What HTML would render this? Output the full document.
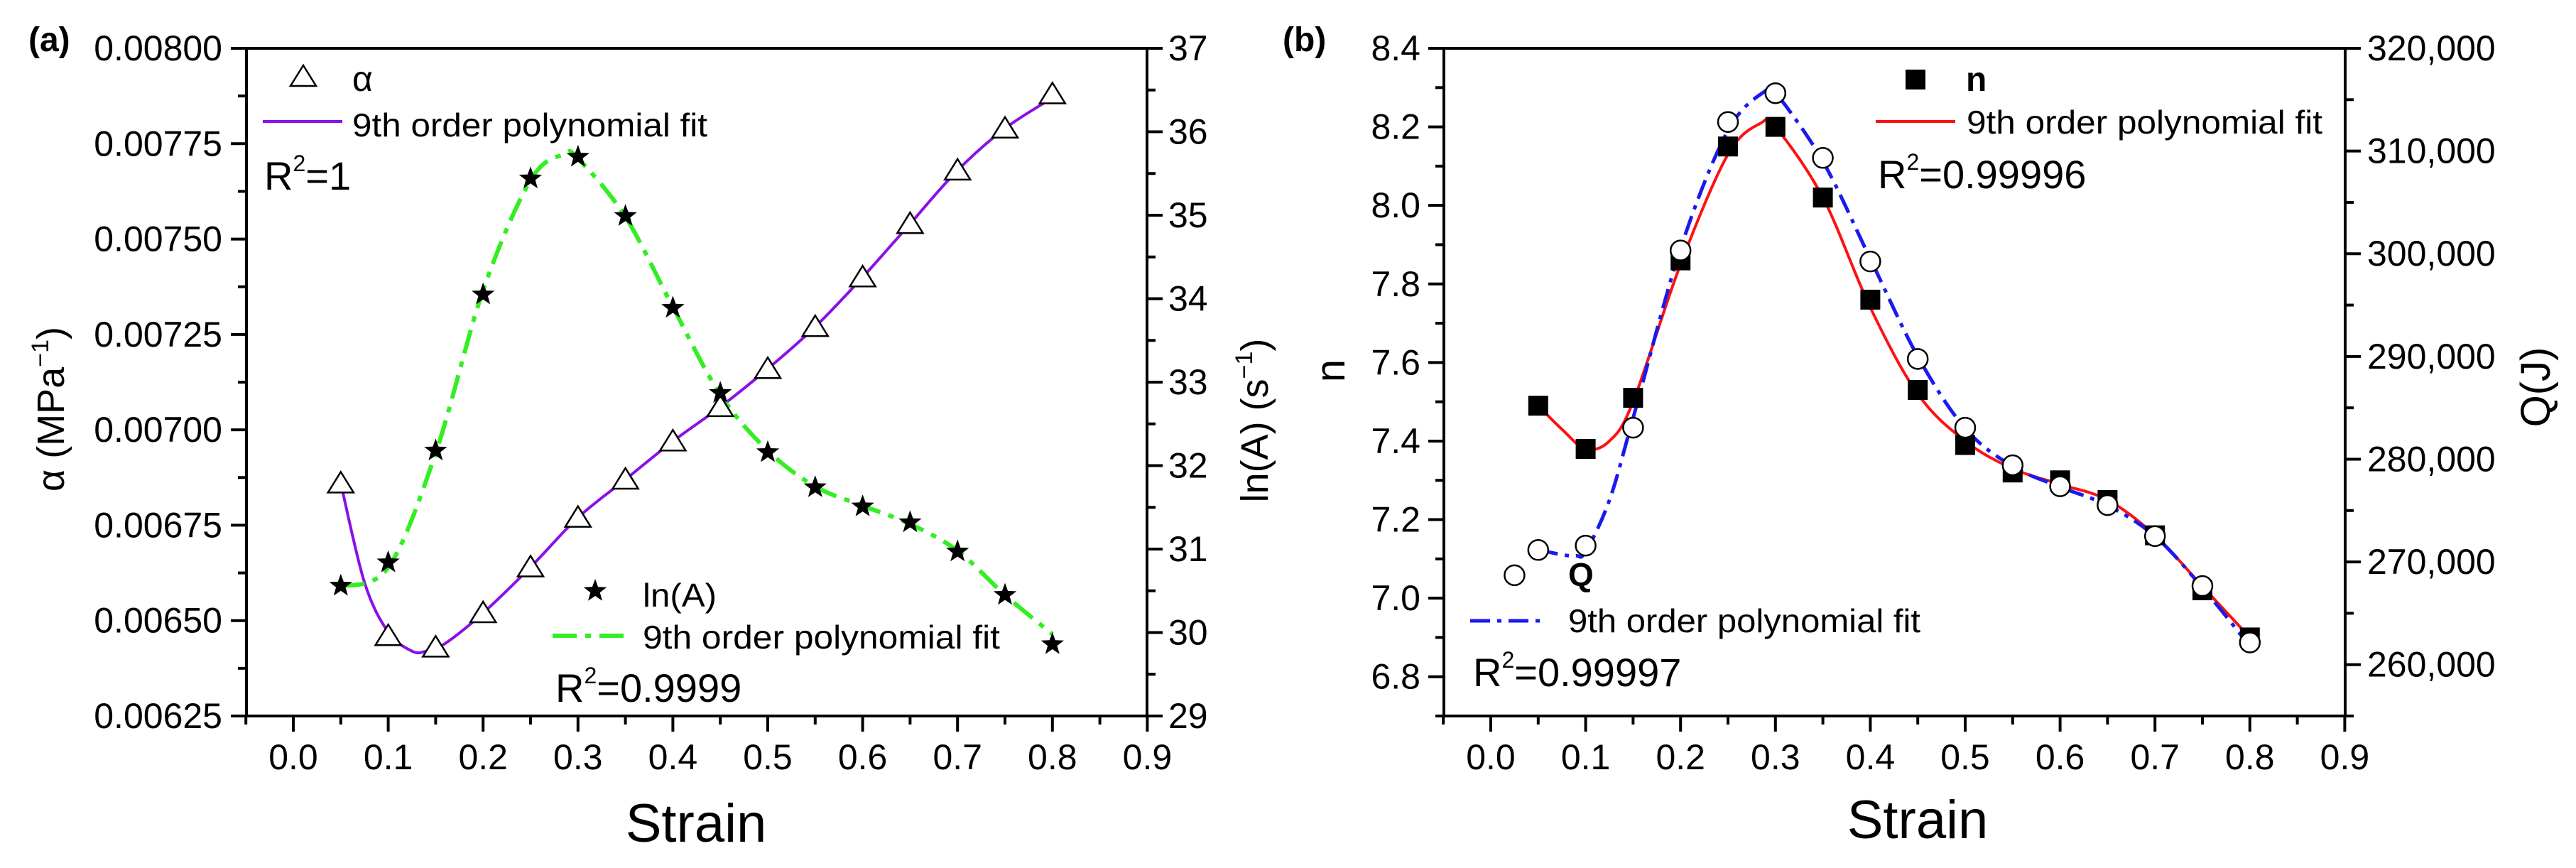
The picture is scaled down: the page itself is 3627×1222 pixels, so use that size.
<!DOCTYPE html>
<html><head><meta charset="utf-8"><style>
html,body{margin:0;padding:0;background:#fff;}
svg{display:block;font-family:"Liberation Sans",Arial,sans-serif;}
</style></head><body>
<svg id="chart" width="3627" height="1222" viewBox="0 0 3627 1222" xmlns="http://www.w3.org/2000/svg"></svg>
<script>
// ---- data (panel a) ----
const strainA = [0.05,0.1,0.15,0.2,0.25,0.3,0.35,0.4,0.45,0.5,0.55,0.6,0.65,0.7,0.75,0.8];
const alphaVals = [0.00686,0.00646,0.00643,0.00652,0.00664,0.00677,0.00687,0.00697,0.00706,0.00716,0.00727,0.00740,0.00754,0.00768,0.00779,0.00788];
const lnAVals = [30.56,30.84,32.18,34.05,35.44,35.70,34.99,33.89,32.87,32.16,31.74,31.51,31.32,30.97,30.45,29.86];
const alphaFitX = [0.05,0.075,0.1,0.125,0.14,0.16,0.2,0.25,0.3,0.35,0.4,0.45,0.5,0.55,0.6,0.65,0.7,0.75,0.8];
const alphaFitY = [0.00686,0.00660,0.00647,0.00642,0.00642,0.00644,0.00652,0.00664,0.00677,0.00687,0.00697,0.00706,0.00716,0.00727,0.00740,0.00754,0.00768,0.00779,0.00787];
const lnAFitX = [0.05,0.1,0.15,0.2,0.25,0.285,0.3,0.35,0.4,0.45,0.5,0.55,0.6,0.65,0.7,0.75,0.8];
const lnAFitY = [30.55,30.78,32.15,34.1,35.42,35.73,35.68,34.98,33.9,32.85,32.18,31.75,31.52,31.3,30.98,30.45,29.98];
// ---- data (panel b) ----
const strainN = [0.05,0.1,0.15,0.2,0.25,0.3,0.35,0.4,0.45,0.5,0.55,0.6,0.65,0.7,0.75,0.8];
const nVals = [7.49,7.38,7.51,7.86,8.15,8.20,8.02,7.76,7.53,7.39,7.32,7.30,7.25,7.16,7.02,6.90];
const strainQ = [0.025,0.05,0.1,0.15,0.2,0.25,0.3,0.35,0.4,0.45,0.5,0.55,0.6,0.65,0.7,0.75,0.8];
const qVals = [268700,271160,271590,283070,300320,312830,315630,309330,299250,289760,283070,279410,277360,275530,272510,267650,262160];
const nFitX = [0.05,0.075,0.1,0.125,0.15,0.2,0.25,0.285,0.3,0.35,0.4,0.45,0.5,0.55,0.6,0.65,0.7,0.75,0.8];
const nFitY = [7.49,7.43,7.38,7.40,7.50,7.85,8.13,8.21,8.20,8.02,7.74,7.52,7.40,7.33,7.29,7.25,7.16,7.03,6.90];
const qFitX = [0.05,0.075,0.09,0.1,0.125,0.15,0.2,0.25,0.29,0.3,0.35,0.4,0.45,0.5,0.55,0.6,0.65,0.7,0.75,0.8];
const qFitY = [271200,270700,270600,271000,276000,284000,300500,312000,315900,315700,309000,299500,290000,283000,279300,277300,275500,272500,267500,261800];
// ---- ticks ----
const xTicks = ["0.0","0.1","0.2","0.3","0.4","0.5","0.6","0.7","0.8","0.9"];
const alphaTicks = ["0.00625","0.00650","0.00675","0.00700","0.00725","0.00750","0.00775","0.00800"];
const lnATicks = ["29","30","31","32","33","34","35","36","37"];
const nTicks = ["6.8","7.0","7.2","7.4","7.6","7.8","8.0","8.2","8.4"];
const qTicks = ["260,000","270,000","280,000","290,000","300,000","310,000","320,000"];

const NS="http://www.w3.org/2000/svg";
const svg=document.getElementById('chart');
function el(tag,attrs,parent){const e=document.createElementNS(NS,tag);for(const k in attrs)e.setAttribute(k,attrs[k]);(parent||svg).appendChild(e);return e;}
const TOP=68,BOT=1008;
const XA=s=>413+s*1336, XB=s=>2099+s*1336;
const YA=a=>TOP+(0.008-a)/0.00175*(BOT-TOP);
const YL=v=>TOP+(37-v)/8*(BOT-TOP);
const YN=n=>TOP+(8.4-n)/1.7*(BOT-TOP);
const YQ=q=>TOP+(320000-q)/65000*(BOT-TOP);

function spline(pts){let d=`M${pts[0][0]},${pts[0][1]}`;
 for(let i=0;i<pts.length-1;i++){const p0=pts[i-1]||pts[i],p1=pts[i],p2=pts[i+1],p3=pts[i+2]||p2;
  const c1=[p1[0]+(p2[0]-p0[0])/6,p1[1]+(p2[1]-p0[1])/6],c2=[p2[0]-(p3[0]-p1[0])/6,p2[1]-(p3[1]-p1[1])/6];
  d+=` C${c1[0]},${c1[1]} ${c2[0]},${c2[1]} ${p2[0]},${p2[1]}`;}return d;}
function txt(x,y,s,size,opts,name){const t=el('text',Object.assign({x:x,y:y,'font-size':size,fill:'#000'},opts||{}));t.textContent=s;
 
 
 return t;}
function tri(g,x,y){const p=el('polygon',{points:`${x},${y-16} ${x-18},${y+13} ${x+18},${y+13}`,fill:'#fff',stroke:'#000','stroke-width':2.5},g);
 
 }
function star(g,x,y){let pts=[];for(let i=0;i<10;i++){const r=i%2?7:17,a=-Math.PI/2+i*Math.PI/5;pts.push((x+r*Math.cos(a)).toFixed(1)+','+(y+r*Math.sin(a)).toFixed(1));}
 const p=el('polygon',{points:pts.join(' '),fill:'#000'},g);
 
 }
function sq(g,x,y){const p=el('rect',{x:x-14,y:y-14,width:28,height:28,fill:'#000'},g);
 
 }
function circ(g,x,y){const p=el('circle',{cx:x,cy:y,r:14,fill:'#fff',stroke:'#000','stroke-width':2.5},g);
 
 }

function frame(L,R,X,name){const g=el('g',{});
 el('rect',{x:L,y:TOP,width:R-L,height:BOT-TOP,fill:'none',stroke:'#000','stroke-width':4},g);
 for(let i=-1;i<=18;i++){const s=i*0.05,x=X(s);const major=i%2===0;
  el('line',{x1:x,y1:BOT,x2:x,y2:BOT+(major?22:12),stroke:'#000','stroke-width':4},g);}
 xTicks.forEach((t,i)=>txt(X(i*0.1),1083,t,50,{'text-anchor':'middle'},'x-tick-label'));
 return g;}
function yTicksDraw(g,labels,vals,Y,minorStep,lo,hi,xAxis,dir,lx,anchor,name){
 for(let v=lo;v<=hi+1e-9;v+=minorStep){const y=Y(v);const isMaj=vals.some(m=>Math.abs(m-v)<minorStep/10);
  el('line',{x1:xAxis,y1:y,x2:xAxis+dir*(isMaj?22:12),y2:y,stroke:'#000','stroke-width':4},g);}
 labels.forEach((t,i)=>txt(lx,Y(vals[i])+17,t,50,{'text-anchor':anchor},name));}

// ===== Panel (a) =====
const gA=frame(347,1615,XA,'panel-a');
yTicksDraw(gA,alphaTicks,alphaTicks.map(Number),YA,0.000125,0.00625,0.008,347,-1,313,'end','alpha-tick-label');
yTicksDraw(gA,lnATicks,lnATicks.map(Number),YL,0.5,29,37,1615,1,1645,'start','lna-tick-label');
let e;
e=el('path',{d:spline(alphaFitX.map((s,i)=>[XA(s),YA(alphaFitY[i])])),fill:'none',stroke:'#8a10e6','stroke-width':4});

e=el('path',{d:spline(lnAFitX.map((s,i)=>[XA(s),YL(lnAFitY[i])])),fill:'none',stroke:'#33ee22','stroke-width':6,'stroke-dasharray':'34 12 8 12'});

strainA.forEach((s,i)=>tri(svg,XA(s),YA(alphaVals[i])));
strainA.forEach((s,i)=>star(svg,XA(s),YL(lnAVals[i])));
txt(40,72,'(a)',48,{'font-weight':'bold'},'panel-a-label');
tri(svg,427,108);
txt(496,128,'α',50,{},'legend-alpha-label');
e=el('line',{x1:370,y1:171,x2:482,y2:171,stroke:'#8a10e6','stroke-width':4});
txt(496,192,'9th order polynomial fit',46,{textLength:500,lengthAdjust:'spacingAndGlyphs'},'legend-alpha-fit-label');
let r=txt(372,267,'R',56,{},'r2-alpha');r.innerHTML='R<tspan font-size="32" dy="-26">2</tspan><tspan dy="26">=1</tspan>';
star(svg,838,832);
txt(905,854,'ln(A)',46,{textLength:104,lengthAdjust:'spacingAndGlyphs'},'legend-lna-label');
e=el('line',{x1:778,y1:895,x2:887,y2:895,stroke:'#33ee22','stroke-width':6,'stroke-dasharray':'34 12 8 12'});
txt(905,913,'9th order polynomial fit',46,{textLength:503,lengthAdjust:'spacingAndGlyphs'},'legend-lna-fit-label');
r=txt(782,988,'R',56,{},'r2-lna');r.innerHTML='R<tspan font-size="32" dy="-26">2</tspan><tspan dy="26">=0.9999</tspan>';
txt(980,1185,'Strain',76,{'text-anchor':'middle'},'x-axis-title-a');
r=txt(0,0,'',54,{transform:'translate(90,576) rotate(-90)','text-anchor':'middle'},'y-axis-title-alpha');r.innerHTML='α (MPa<tspan font-size="34" dy="-22">−1</tspan><tspan dy="22">)</tspan>';
r=txt(0,0,'',54,{transform:'translate(1785,592) rotate(-90)','text-anchor':'middle'},'y-axis-title-lna');r.innerHTML='ln(A) (s<tspan font-size="34" dy="-22">−1</tspan><tspan dy="22">)</tspan>';

// ===== Panel (b) =====
const gB=frame(2033,3302,XB,'panel-b');
yTicksDraw(gB,nTicks,nTicks.map(Number),YN,0.1,6.7,8.4,2033,-1,2000,'end','n-tick-label');
yTicksDraw(gB,qTicks,qTicks.map(t=>Number(t.replace(/,/g,''))),YQ,5000,255000,320000,3302,1,3333,'start','q-tick-label');
e=el('path',{d:spline(nFitX.map((s,i)=>[XB(s),YN(nFitY[i])])),fill:'none',stroke:'#ff1010','stroke-width':4});

e=el('path',{d:spline(qFitX.map((s,i)=>[XB(s),YQ(qFitY[i])])),fill:'none',stroke:'#1a1aee','stroke-width':5,'stroke-dasharray':'28 10 6 10'});

strainN.forEach((s,i)=>sq(svg,XB(s),YN(nVals[i])));
strainQ.forEach((s,i)=>circ(svg,XB(s),YQ(qVals[i])));
txt(1806,72,'(b)',48,{'font-weight':'bold'},'panel-b-label');
sq(svg,2697,112);
txt(2768,128,'n',48,{'font-weight':'bold'},'legend-n-label');
e=el('line',{x1:2641,y1:171,x2:2753,y2:171,stroke:'#ff1010','stroke-width':4});
txt(2769,188,'9th order polynomial fit',46,{textLength:501,lengthAdjust:'spacingAndGlyphs'},'legend-n-fit-label');
r=txt(2644,265,'R',56,{},'r2-n');r.innerHTML='R<tspan font-size="32" dy="-26">2</tspan><tspan dy="26">=0.99996</tspan>';
txt(2208,825,'Q',46,{'font-weight':'bold'},'legend-q-label');
e=el('line',{x1:2070,y1:874,x2:2170,y2:874,stroke:'#1a1aee','stroke-width':5,'stroke-dasharray':'28 10 6 10'});
txt(2208,890,'9th order polynomial fit',46,{textLength:496,lengthAdjust:'spacingAndGlyphs'},'legend-q-fit-label');
r=txt(2074,966,'R',56,{},'r2-q');r.innerHTML='R<tspan font-size="32" dy="-26">2</tspan><tspan dy="26">=0.99997</tspan>';
txt(2700,1180,'Strain',76,{'text-anchor':'middle'},'x-axis-title-b');
txt(0,0,'n',58,{transform:'translate(1893,522) rotate(-90)','text-anchor':'middle'},'y-axis-title-n');
txt(0,0,'Q(J)',58,{transform:'translate(3590,545) rotate(-90)','text-anchor':'middle'},'y-axis-title-q');
</script>
</body></html>
